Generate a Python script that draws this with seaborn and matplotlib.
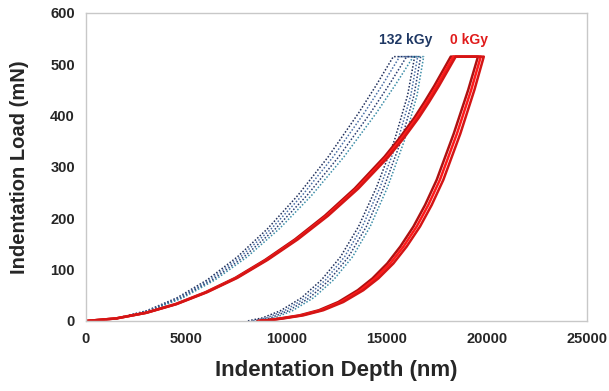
import matplotlib
matplotlib.use("Agg")
import matplotlib.pyplot as plt
import seaborn as sns
import pandas as pd

# ---- data ----
red_load_y = [0, 5, 16, 33, 56, 84, 119, 159, 205, 258, 320, 356, 396, 426, 458, 515]
red_load_x1 = [0, 1490, 2979, 4469, 5958, 7448, 8937, 10427, 11916, 13406, 14895, 15640, 16385, 16880, 17378, 18202]
red_load_x2 = [0, 1500, 3000, 4500, 6000, 7500, 9000, 10500, 12000, 13500, 15000, 15750, 16500, 17000, 17500, 18330]
red_load_x3 = [0, 1510, 3020, 4529, 6039, 7549, 9059, 10568, 12078, 13588, 15098, 15852, 16607, 17110, 17614, 18449]

red_unload_y = [515, 450, 365, 275, 226, 184, 145, 112, 83, 60, 37, 21, 11, 5, 2, 0]
red_unload_x1 = [19560, 19070, 18350, 17500, 16920, 16340, 15685, 15030, 14295, 13560, 12590, 11620, 10650, 9680, 9115, 8550]
red_unload_x2 = [19700, 19220, 18510, 17660, 17080, 16500, 15840, 15180, 14440, 13700, 12715, 11730, 10745, 9760, 9190, 8620]
red_unload_x3 = [19850, 19380, 18680, 17831, 17250, 16666, 16000, 15336, 14590, 13839, 12840, 11843, 10845, 9846, 9270, 8700]

blue_load_y = [0, 5, 20, 45, 80, 125, 180, 245, 320, 405, 460, 515]
blue_load_x1 = [0, 1510, 3023, 4533, 6044, 7556, 9066, 10577, 12089, 13599, 14493, 15335]
blue_load_x2 = [0, 1542, 3085, 4626, 6168, 7711, 9252, 10794, 12337, 13878, 14791, 15650]
blue_load_x3 = [0, 1576, 3154, 4730, 6306, 7883, 9459, 11035, 12613, 14189, 15122, 16000]
blue_load_x4 = [0, 1609, 3219, 4828, 6437, 8047, 9656, 11265, 12875, 14484, 15436, 16333]

blue_unload_y = [515, 440, 353, 261, 184, 125, 80, 45, 20, 6, 0]
blue_unload_x1 = [16400, 16050, 15400, 14500, 13600, 12700, 11750, 10750, 9700, 8800, 8050]
blue_unload_x2 = [16550, 16210, 15570, 14680, 13790, 12900, 11950, 10950, 9900, 9000, 8270]
blue_unload_x3 = [16700, 16370, 15740, 14870, 13990, 13100, 12150, 11150, 10100, 9200, 8480]
blue_unload_x4 = [16850, 16520, 15900, 15050, 14180, 13300, 12350, 11350, 10300, 9400, 8700]

x_ticks = [0, 5000, 10000, 15000, 20000, 25000]
y_ticks = [0, 100, 200, 300, 400, 500, 600]
label_blue = "132 kGy"
label_red = "0 kGy"

# ---- figure ----
sns.set_theme(style="white")
plt.rcParams['font.family'] = ['Liberation Sans', 'DejaVu Sans']

fig = plt.figure(figsize=(6.09, 3.91), dpi=100)
ax = fig.add_axes([86/609, 1-321/391, (587-86)/609, (321-13)/391])

def curve(lx, ly, ux, uy):
    return pd.DataFrame({"depth": list(lx) + list(ux), "load": list(ly) + list(uy)})

blue_sets = [(blue_load_x1, blue_unload_x1), (blue_load_x2, blue_unload_x2),
             (blue_load_x3, blue_unload_x3), (blue_load_x4, blue_unload_x4)]
blue_cols = ['#1F2F5C', '#4A6FA5', '#2B3F73', '#3C8DA8']
for (lx, ux), c in zip(blue_sets, blue_cols):
    df = curve(lx, blue_load_y, ux, blue_unload_y)
    sns.lineplot(data=df, x="depth", y="load", sort=False, estimator=None, ax=ax,
                 color=c, linestyle=(0, (1, 1.2)), linewidth=1.1)

red_sets = [(red_load_x1, red_unload_x1), (red_load_x2, red_unload_x2),
            (red_load_x3, red_unload_x3)]
red_cols = ['#B01010', '#FF1A1A', '#D41515']
for (lx, ux), c in zip(red_sets, red_cols):
    df = curve(lx, red_load_y, ux, red_unload_y)
    sns.lineplot(data=df, x="depth", y="load", sort=False, estimator=None, ax=ax,
                 color=c, linewidth=1.8)

ax.set_xlim(0, 25000)
ax.set_ylim(0, 600)
ax.set_xticks(x_ticks)
ax.set_yticks(y_ticks)
ax.set_xticklabels([str(v) for v in x_ticks], fontsize=10.5, fontweight='bold', color='#262626')
ax.set_yticklabels([str(v) for v in y_ticks], fontsize=10.5, fontweight='bold', color='#262626')
ax.tick_params(axis='both', direction='out', length=4, width=0.8, color='#BFBFBF', pad=4)
for s in ax.spines.values():
    s.set_visible(True)
    s.set_color('#C8C8C8')
    s.set_linewidth(1.0)

ax.set_xlabel("Indentation Depth (nm)", fontsize=16, fontweight='bold', color='#262626', labelpad=10)
ax.set_ylabel("Indentation Load (mN)", fontsize=14.5, fontweight='bold', color='#262626', labelpad=15)

ax.text(15950, 548, label_blue, color='#1F3864', fontsize=10, fontweight='bold', ha='center', va='center')
ax.text(19100, 548, label_red, color='#E01B1B', fontsize=10, fontweight='bold', ha='center', va='center')

fig.savefig("out.png", dpi=100)
